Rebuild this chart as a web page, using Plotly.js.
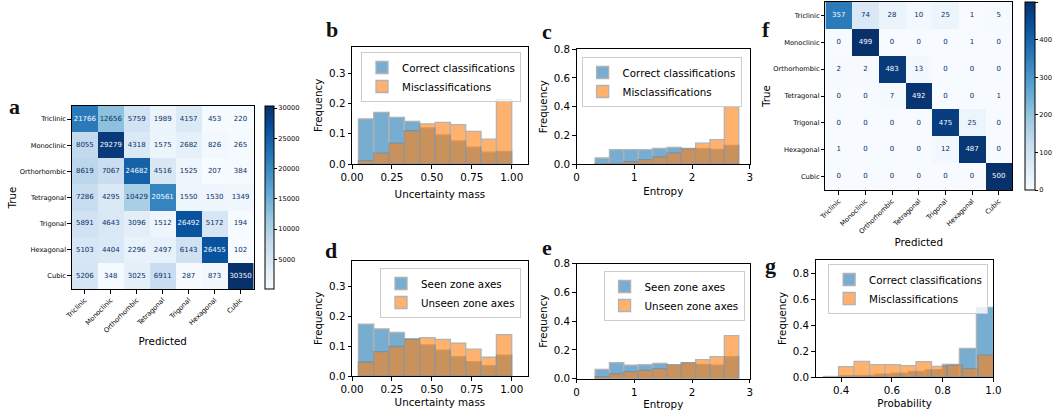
<!DOCTYPE html>
<html>
<head>
<meta charset="utf-8">
<script src="https://cdn.plot.ly/plotly-3.0.1.min.js"></script>
<style>html,body{margin:0;padding:0;background:#fff}#chart{width:1053px;height:410px}</style>
</head>
<body>
<div id="chart"></div>
<script>
// ---------- data ----------
const crystalClasses = ['Triclinic','Monoclinic','Orthorhombic','Tetragonal','Trigonal','Hexagonal','Cubic'];
const cmA = [
  [21766,12656,5759,1989,4157,453,220],
  [8055,29279,4318,1575,2682,826,265],
  [8619,7067,24682,4516,1525,207,384],
  [7286,4295,10429,20561,1550,1530,1349],
  [5891,4643,3096,1512,26492,5172,194],
  [5103,4404,2296,2497,6143,26455,102],
  [5206,348,3025,6911,287,873,30350]
];
const cmF = [
  [357,74,28,10,25,1,5],
  [0,499,0,0,0,1,0],
  [2,2,483,13,0,0,0],
  [0,0,7,492,0,0,1],
  [0,0,0,0,475,25,0],
  [1,0,0,0,12,487,0],
  [0,0,0,0,0,0,500]
];
const cbTicksA = [5000,10000,15000,20000,25000,30000];
const cbTicksF = [0,100,200,300,400,500];

// histogram bin edges
const uncEdges = [0.04,0.136,0.232,0.328,0.424,0.52,0.616,0.712,0.808,0.904,1.0];
const entEdges = [0.32,0.569,0.817,1.066,1.315,1.564,1.812,2.061,2.310,2.558,2.807];
const probEdgesCorrect = [0.33,0.397,0.464,0.531,0.598,0.665,0.732,0.799,0.866,0.933,1.0];
const probEdgesMis = [0.39,0.451,0.512,0.573,0.634,0.695,0.756,0.817,0.878,0.939,1.0];

// panel b: uncertainty mass
const bCorrect = [0.149,0.171,0.154,0.141,0.119,0.096,0.076,0.056,0.039,0.042];
const bMis     = [0.011,0.036,0.069,0.110,0.133,0.138,0.130,0.108,0.082,0.213];
// panel c: entropy
const cCorrect = [0.042,0.100,0.100,0.100,0.109,0.116,0.109,0.107,0.102,0.130];
const cMis     = [0.002,0.003,0.016,0.030,0.050,0.077,0.105,0.145,0.170,0.400];
// panel d: uncertainty mass, zone axes
const dSeen    = [0.174,0.158,0.146,0.125,0.104,0.087,0.065,0.048,0.035,0.070];
const dUnseen  = [0.047,0.082,0.099,0.123,0.129,0.123,0.110,0.090,0.063,0.139];
// panel e: entropy, zone axes
const eSeen    = [0.065,0.111,0.095,0.097,0.107,0.095,0.110,0.100,0.095,0.153];
const eUnseen  = [0.014,0.035,0.049,0.058,0.070,0.097,0.111,0.132,0.153,0.300];
// panel g: probability
const gCorrect = [0.004,0.010,0.012,0.022,0.030,0.044,0.056,0.097,0.220,0.536];
const gMis     = [0.080,0.120,0.095,0.095,0.087,0.118,0.082,0.092,0.064,0.169];

// ---------- helpers ----------
const W = 1053, H = 410;
const xd = (a,b) => [a/W, b/W];
const yd = (t,b) => [1-b/H, 1-t/H];
const FONT = 'DejaVu Sans';
const BLUE = '#1f77b4', ORANGE = '#ff7f0e';

const blues = [
  [0,'#f7fbff'],[0.125,'#deebf7'],[0.25,'#c6dbef'],[0.375,'#9ecae1'],
  [0.5,'#6baed6'],[0.625,'#4292c6'],[0.75,'#2171b5'],[0.875,'#08519c'],[1,'#08306b']
];

function centers(e){ const r=[]; for(let i=0;i<e.length-1;i++) r.push((e[i]+e[i+1])/2); return r; }
function widths(e){ const r=[]; for(let i=0;i<e.length-1;i++) r.push(e[i+1]-e[i]); return r; }

function histTrace(edges, vals, color, name, xa, ya, legend){
  return {type:'bar', x:centers(edges), y:vals, width:widths(edges), name:name,
    xaxis:xa, yaxis:ya, legend:legend, opacity:0.6,
    marker:{color:color, line:{color:'gray', width:1.3}}, hoverinfo:'skip'};
}

function cellText(cm, xa, ya){
  let mx=-Infinity, mn=Infinity;
  cm.forEach(r=>r.forEach(v=>{mx=Math.max(mx,v); mn=Math.min(mn,v);}));
  const thr=(mx+mn)/2;
  const xs=[], ys=[], ts=[], cs=[];
  cm.forEach((r,i)=>r.forEach((v,j)=>{
    xs.push(crystalClasses[j]); ys.push(crystalClasses[i]); ts.push(String(v));
    cs.push(v>thr ? '#f7fbff' : '#08306b');
  }));
  return {type:'scatter', mode:'text', x:xs, y:ys, text:ts, xaxis:xa, yaxis:ya,
    textfont:{family:FONT, size:7, color:cs}, showlegend:false, hoverinfo:'skip', cliponaxis:false};
}

function heatTrace(cm, xa, ya, zmin, zmax, cb){
  return {type:'heatmap', z:cm, x:crystalClasses, y:crystalClasses, xaxis:xa, yaxis:ya,
    colorscale:blues, zmin:zmin, zmax:zmax, showscale:true, colorbar:cb, hoverinfo:'skip'};
}

let zmaxA=-Infinity, zminA=Infinity;
cmA.forEach(r=>r.forEach(v=>{zmaxA=Math.max(zmaxA,v); zminA=Math.min(zminA,v);}));

const cbBase = {xanchor:'left', xpad:0, ypad:0, yanchor:'middle', thicknessmode:'pixels',
  lenmode:'pixels', outlinewidth:1, outlinecolor:'#000', ticks:'outside', ticklen:3,
  tickcolor:'#000', tickfont:{family:FONT, size:6.7, color:'#000'}, tickmode:'array', tickformat:'d'};

const traces = [
  heatTrace(cmA,'x','y',zminA,zmaxA, Object.assign({}, cbBase, {x:266/W, y:1-197.5/H, thickness:9, len:183, tickvals:cbTicksA})),
  cellText(cmA,'x','y'),
  histTrace(uncEdges,bCorrect,BLUE,'Correct classifications','x2','y2','legend'),
  histTrace(uncEdges,bMis,ORANGE,'Misclassifications','x2','y2','legend'),
  histTrace(entEdges,cCorrect,BLUE,'Correct classifications','x3','y3','legend2'),
  histTrace(entEdges,cMis,ORANGE,'Misclassifications','x3','y3','legend2'),
  histTrace(uncEdges,dSeen,BLUE,'Seen zone axes','x4','y4','legend3'),
  histTrace(uncEdges,dUnseen,ORANGE,'Unseen zone axes','x4','y4','legend3'),
  histTrace(entEdges,eSeen,BLUE,'Seen zone axes','x5','y5','legend4'),
  histTrace(entEdges,eUnseen,ORANGE,'Unseen zone axes','x5','y5','legend4'),
  heatTrace(cmF,'x6','y6',0,500, Object.assign({}, cbBase, {x:1027/W, y:1-96/H, thickness:10, len:188, tickvals:cbTicksF})),
  cellText(cmF,'x6','y6'),
  histTrace(probEdgesCorrect,gCorrect,BLUE,'Correct classifications','x7','y7','legend5'),
  histTrace(probEdgesMis,gMis,ORANGE,'Misclassifications','x7','y7','legend5')
];

const axBase = {showline:true, mirror:true, linecolor:'#000', linewidth:1, ticks:'outside',
  ticklen:3.5, tickcolor:'#000', showgrid:false, zeroline:false, automargin:false,
  tickfont:{family:FONT, size:10.3, color:'#000'}};
const hmBase = Object.assign({}, axBase, {tickfont:{family:FONT, size:6.7, color:'#000'}});
const ttl = (t, s) => ({text:t, font:{family:FONT, size:10.3, color:'#000'}, standoff:s});

function legendAt(rx, ty){
  return {x:rx/W, y:1-ty/H, xanchor:'right', yanchor:'top', bgcolor:'rgba(255,255,255,0.8)',
    bordercolor:'#cccccc', borderwidth:1, font:{family:FONT, size:10.3, color:'#000'},
    traceorder:'normal', itemwidth:30, tracegroupgap:0};
}

function letter(t, cx, cy){
  return {text:t, x:cx/W, y:1-cy/H, xref:'paper', yref:'paper', xanchor:'center', yanchor:'middle',
    showarrow:false, font:{family:'Liberation Serif', size:22, color:'#111', weight:'bold'}};
}

const layout = {
  width:W, height:H, margin:{l:0,r:0,t:0,b:0}, paper_bgcolor:'#fff', plot_bgcolor:'#fff',
  barmode:'overlay', font:{family:FONT, color:'#000'},
  xaxis: Object.assign({}, hmBase, {domain:xd(72,254), anchor:'y', range:[-0.5,6.5], tickangle:-45,
    title:ttl('Predicted',0)}),
  yaxis: Object.assign({}, hmBase, {domain:yd(106,289), anchor:'x', range:[6.5,-0.5],
    title:ttl('True',1)}),
  xaxis2: Object.assign({}, axBase, {domain:xd(352.7,528.7), anchor:'y2', range:[0,1.1],
    tickvals:[0,0.25,0.5,0.75,1.0], tickformat:'.2f', title:ttl('Uncertainty mass',8)}),
  yaxis2: Object.assign({}, axBase, {domain:yd(46.7,164), anchor:'x2', range:[0,0.388],
    tickvals:[0,0.1,0.2,0.3], tickformat:'.1f', title:ttl('Frequency',4)}),
  xaxis3: Object.assign({}, axBase, {domain:xd(577.7,751.3), anchor:'y3', range:[0,3],
    tickvals:[0,1,2,3], title:ttl('Entropy',5)}),
  yaxis3: Object.assign({}, axBase, {domain:yd(49.3,164), anchor:'x3', range:[0,0.8],
    tickvals:[0,0.2,0.4,0.6,0.8], tickformat:'.1f', title:ttl('Frequency',4)}),
  xaxis4: Object.assign({}, axBase, {domain:xd(352.7,528.7), anchor:'y4', range:[0,1.1],
    tickvals:[0,0.25,0.5,0.75,1.0], tickformat:'.2f', title:ttl('Uncertainty mass',4)}),
  yaxis4: Object.assign({}, axBase, {domain:yd(260.7,376), anchor:'x4', range:[0,0.387],
    tickvals:[0,0.1,0.2,0.3], tickformat:'.1f', title:ttl('Frequency',4)}),
  xaxis5: Object.assign({}, axBase, {domain:xd(577.7,751.3), anchor:'y5', range:[0,3],
    tickvals:[0,1,2,3], title:ttl('Entropy',5)}),
  yaxis5: Object.assign({}, axBase, {domain:yd(263.7,378.7), anchor:'x5', range:[0,0.8],
    tickvals:[0,0.2,0.4,0.6,0.8], tickformat:'.1f', title:ttl('Frequency',4)}),
  xaxis6: Object.assign({}, hmBase, {domain:xd(827,1014), anchor:'y6', range:[-0.5,6.5], tickangle:-45,
    title:ttl('Predicted',2)}),
  yaxis6: Object.assign({}, hmBase, {domain:yd(2,190), anchor:'x6', range:[6.5,-0.5],
    title:ttl('True',0)}),
  xaxis7: Object.assign({}, axBase, {domain:xd(817.3,995.3), anchor:'y7', range:[0.3,1.0],
    tickvals:[0.4,0.6,0.8,1.0], tickformat:'.1f', title:ttl('Probability',4)}),
  yaxis7: Object.assign({}, axBase, {domain:yd(260,377), anchor:'x7', range:[0,0.9],
    tickvals:[0,0.2,0.4,0.6,0.8], tickformat:'.1f', title:ttl('Frequency',4)}),
  legend: legendAt(522,52),
  legend2: legendAt(743,57),
  legend3: legendAt(522,268),
  legend4: legendAt(746,271),
  legend5: legendAt(990,264),
  annotations:[
    letter('a',15,106.5), letter('b',333,30), letter('c',548,31.7), letter('d',332,250),
    letter('e',548,247.4), letter('f',767,30), letter('g',771.5,265.4)
  ]
};

Plotly.newPlot('chart', traces, layout, {displayModeBar:false, staticPlot:true});
</script>
</body>
</html>
